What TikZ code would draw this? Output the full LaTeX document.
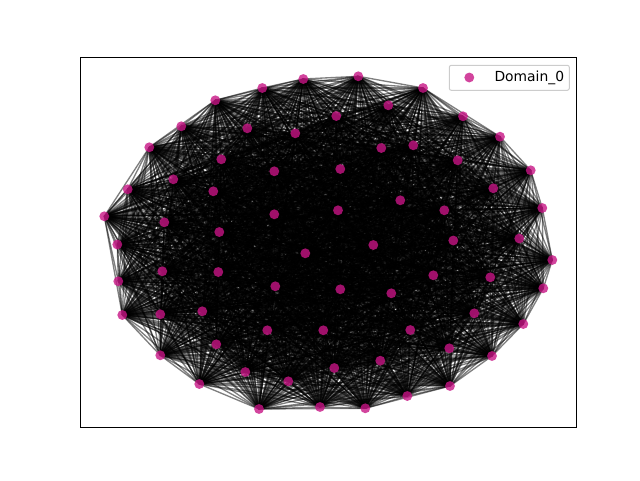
\documentclass[tikz,border=0pt]{standalone}
\usepackage{fontspec}
\setmainfont{DejaVu Sans}
\definecolor{mvr}{RGB}{199,21,133}
\tikzset{
  edge/.style={black, line width=1.0pt, opacity=0.5},
  vert/.style={circle, fill=mvr, fill opacity=0.8, draw=none, minimum size=7.4pt, inner sep=0pt},
  frame/.style={draw=black, line width=0.6pt},
  legbox/.style={draw=black!20, fill=white, fill opacity=0.8, rounded corners=1.5pt, line width=0.75pt},
  legtext/.style={anchor=west, inner sep=0pt, font=\fontsize{10.4pt}{12pt}\selectfont}
}
\begin{document}
\begin{tikzpicture}[x=0.75pt, y=-0.75pt]
\useasboundingbox (0,0) rectangle (640,480);
\foreach \x/\y [count=\k] in {
303.3/79, 262.3/88, 215.3/100.3, 181.3/126.3, 247.3/128.3, 295.3/133.3, 149.3/147.3, 221.3/159.3,
274.3/171.3, 173.3/179.3, 127.7/189.3, 213.3/191.3, 104.3/216.3, 164.3/222.3, 274.3/214.3, 219.3/232,
117.3/244.5, 358.3/76.3, 423/88, 388.3/105.3, 336.3/116, 463/116.3, 500/136.7, 381.3/148,
413.3/145.3, 340.3/169, 457.7/160.3, 530.7/170.3, 493.3/188.3, 400.3/200.3, 542.3/208, 338/210.3,
444.3/210.3, 373.3/245, 453.3/240.5, 519.3/238.5, 305.3/253.3, 162.3/271.3, 218.3/272, 118.3/281.3,
275.3/286.3, 122.3/315, 160.3/314.3, 202.3/311.3, 267.3/330.3, 323.3/330.3, 216.3/344.3, 160.3/355.3,
245.3/372, 288.3/381.3, 199.3/384, 259/409, 320/407, 552.3/260, 433.3/275.3, 490.3/277.3,
543.3/288.3, 340.3/289.3, 391.3/293.3, 474.3/313.3, 523.3/324, 410.3/330, 449.3/348.3, 492/356,
380.3/360.7, 334.3/368, 450/386, 407.3/396, 365.3/408.3}
  {\coordinate (p\k) at (\x,\y);}
\foreach \i in {1,...,68} {
  \pgfmathtruncatemacro\js{\i+1}
  \foreach \j in {\js,...,69} {
    \draw[edge] (p\i) -- (p\j);
  }
}
\foreach \k in {1,...,69} {\node[vert] (n\k) at (p\k) {};}
\draw[frame] (80,57.6) rectangle (576,427.2);
\draw[legbox] (449.3,65.3) rectangle (569.3,90.3);
\node[vert] (legmark) at (469.3,77.5) {};
\node[legtext] (legtxt) at (494.3,77.5) {Domain\_0};
\end{tikzpicture}
\end{document}
